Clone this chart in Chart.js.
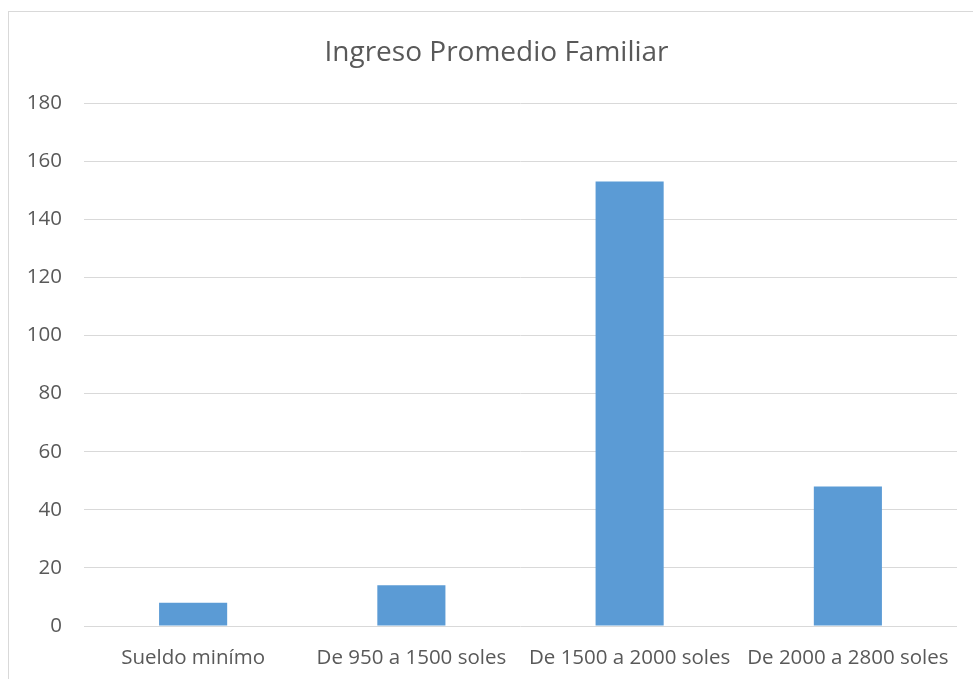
<!DOCTYPE html>
<html>
<head>
<meta charset="utf-8">
<script src="https://cdn.jsdelivr.net/npm/chart.js@4.4.0/dist/chart.umd.min.js"></script>
<style>
  html, body { margin: 0; padding: 0; background: #fff; overflow: hidden; }
  #marco { position: absolute; left: 8px; top: 11px; width: 970px; height: 700px;
           border-left: 1px solid #d9d9d9; border-top: 1px solid #d9d9d9; }
  #wrap { position: absolute; left: 0; top: 0; width: 973px; height: 679px; }
</style>
</head>
<body>
<div id="marco"></div>
<div id="wrap"><canvas id="myChart" width="973" height="679"></canvas></div>
<script>
// datos del grafico
var categorias = ['Sueldo minímo', 'De 950 a 1500 soles', 'De 1500 a 2000 soles', 'De 2000 a 2800 soles'];
var valores = [8, 14, 153, 48];
var ticksY = [0, 20, 40, 60, 80, 100, 120, 140, 160, 180];

var fuente = '"Open Sans", Lato, sans-serif';
var gris = '#595959';

// mueve el titulo un poco a la derecha (centrado como en el original)
var moverTitulo = {
  id: 'moverTitulo',
  afterLayout: function(chart) {
    if (chart.titleBlock) {
      chart.titleBlock.left += 18;
      chart.titleBlock.right += 18;
    }
  }
};

let ctx = document.getElementById('myChart').getContext('2d');
let barChart = new Chart(ctx, {
  type: 'bar',
  data: {
    labels: categorias,
    datasets: [{
      label: 'Ingreso',
      data: valores,
      backgroundColor: '#5b9bd5',
      borderWidth: 0,
      barPercentage: 0.312,
      categoryPercentage: 1
    }]
  },
  plugins: [moverTitulo],
  options: {
    responsive: false,
    animation: false,
    layout: { padding: { left: 0, right: 16, top: 0, bottom: 0 } },
    plugins: {
      legend: { display: false },
      tooltip: { enabled: false },
      title: {
        display: true,
        text: 'Ingreso Promedio Familiar',
        color: gris,
        font: { family: fuente, size: 28, weight: 'normal' },
        padding: { top: 36, bottom: 33.4 }
      }
    },
    scales: {
      x: {
        grid: { display: false, drawTicks: false },
        border: { display: false },
        ticks: { color: gris, font: { family: fuente, size: 20.5 }, padding: 20, maxRotation: 0, autoSkip: false },
        afterFit: function(s) { s.height = 53; }
      },
      y: {
        min: 0,
        max: 180,
        afterBuildTicks: function(s) { s.ticks = ticksY.map(function(v) { return { value: v }; }); },
        grid: { color: '#d9d9d9', lineWidth: 1, drawTicks: false },
        border: { display: false },
        ticks: { color: gris, font: { family: fuente, size: 20.5 }, padding: 22 },
        afterFit: function(s) { s.width = 84; }
      }
    }
  }
});
</script>
</body>
</html>
